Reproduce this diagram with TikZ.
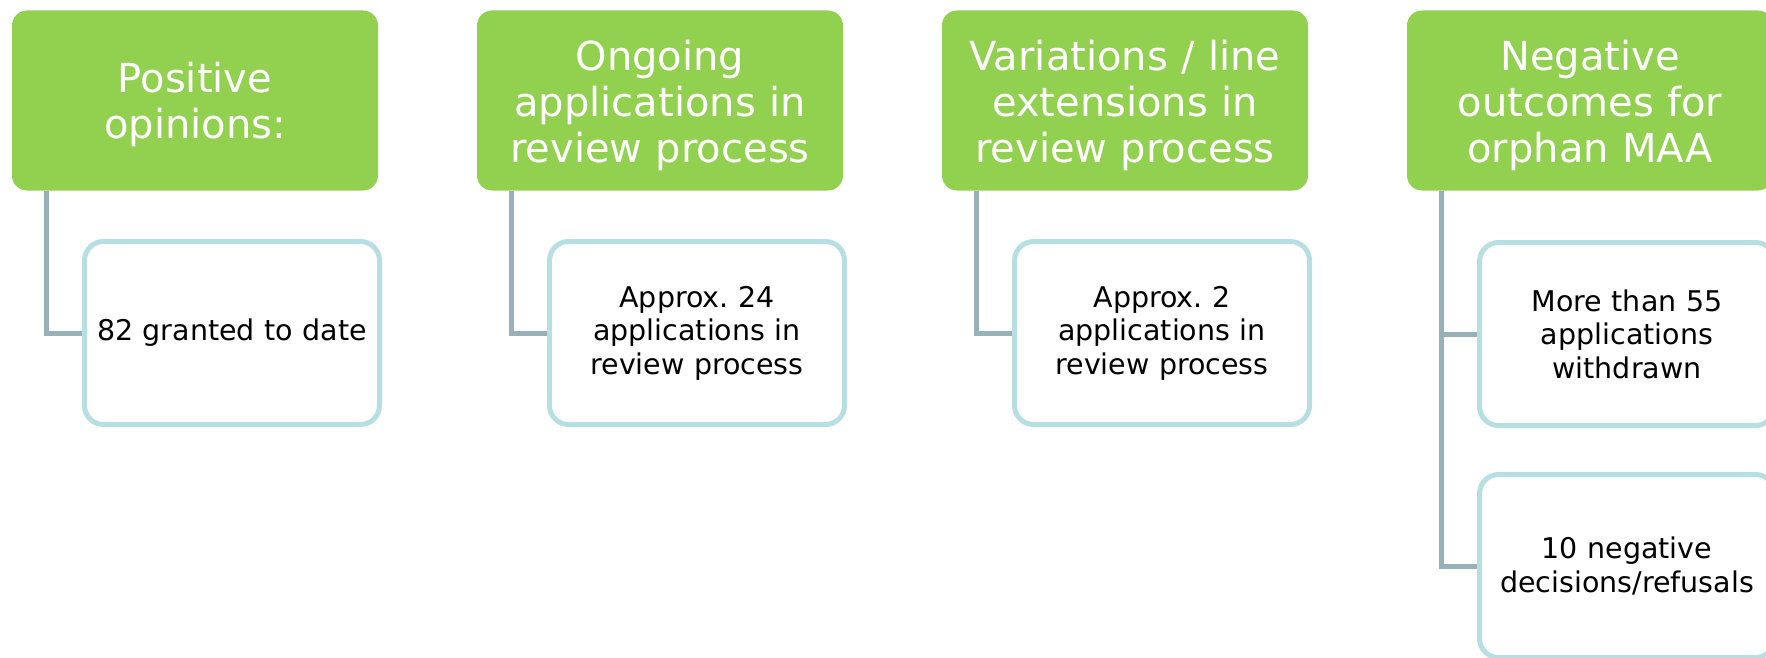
\documentclass[tikz,border=0pt]{standalone}
\usepackage{fontspec}
\setmainfont{DejaVu Sans}
\frenchspacing
\definecolor{hgreen}{RGB}{146,208,80}
\definecolor{cborder}{RGB}{183,222,226}
\definecolor{conncol}{RGB}{150,177,183}
\begin{document}
\begin{tikzpicture}[x=1pt,y=-1pt,
  header/.style={fill=hgreen, draw=none, rounded corners=15pt, minimum width=366pt, minimum height=180pt,
    inner sep=0pt},
  htext/.style={text width=350pt, align=center, text=white, inner sep=0pt,
    font=\fontsize{40}{46}\selectfont},
  child/.style={fill=white, draw=cborder, line width=5pt, rounded corners=19pt, minimum width=295pt, minimum height=183pt,
    text width=285pt, align=center, text=black, inner sep=0pt,
    font=\fontsize{28.5}{33.5}\selectfont},
  conn/.style={draw=conncol, line width=5pt}]
\useasboundingbox (0,0) rectangle (1766,658);
\clip (0,0) rectangle (1766,658);
% headers
\node[header] (h1) at (195,100.5) {};
\node[header] (h2) at (660,100.5) {};
\node[header] (h3) at (1125,100.5) {};
\node[header] (h4) at (1590,100.5) {};
\node[htext] (t1) at ([yshift=-4pt]h1.center) {Positive\\opinions:};
\node[htext] (t2) at ([yshift=-5pt]h2.center) {Ongoing\\applications in\\review process};
\node[htext] (t3) at ([yshift=-5pt]h3.center) {Variations / line\\extensions in\\review process};
\node[htext] (t4) at ([yshift=-5pt]h4.center) {Negative\\outcomes for\\orphan MAA};
% connector anchors
\coordinate (k1) at ([xshift=35pt]h1.south west);
\coordinate (k2) at ([xshift=35pt]h2.south west);
\coordinate (k3) at ([xshift=35pt]h3.south west);
\coordinate (k4) at ([xshift=35pt]h4.south west);
% child positions
\coordinate (p1) at (232,333);
\coordinate (p2) at (697,333);
\coordinate (p3) at (1162,333);
\coordinate (p4) at (1627,334);
\coordinate (p5) at (1627,566);
% connectors
\draw[conn] (k1) |- ([xshift=-147.5pt]p1);
\draw[conn] (k2) |- ([xshift=-147.5pt]p2);
\draw[conn] (k3) |- ([xshift=-147.5pt]p3);
\draw[conn] (k4) |- ([xshift=-147.5pt]p4);
\draw[conn] (k4) |- ([xshift=-147.5pt]p5);
% children
\node[child] (c1) at (p1) {82 granted to date};
\node[child] (c2) at (p2) {Approx. 24\\applications in\\review process};
\node[child] (c3) at (p3) {Approx. 2\\applications in\\review process};
\node[child] (c4) at (p4) {More than 55\\applications\\withdrawn};
\node[child] (c5) at (p5) {10 negative\\decisions/refusals};
\end{tikzpicture}
\end{document}
